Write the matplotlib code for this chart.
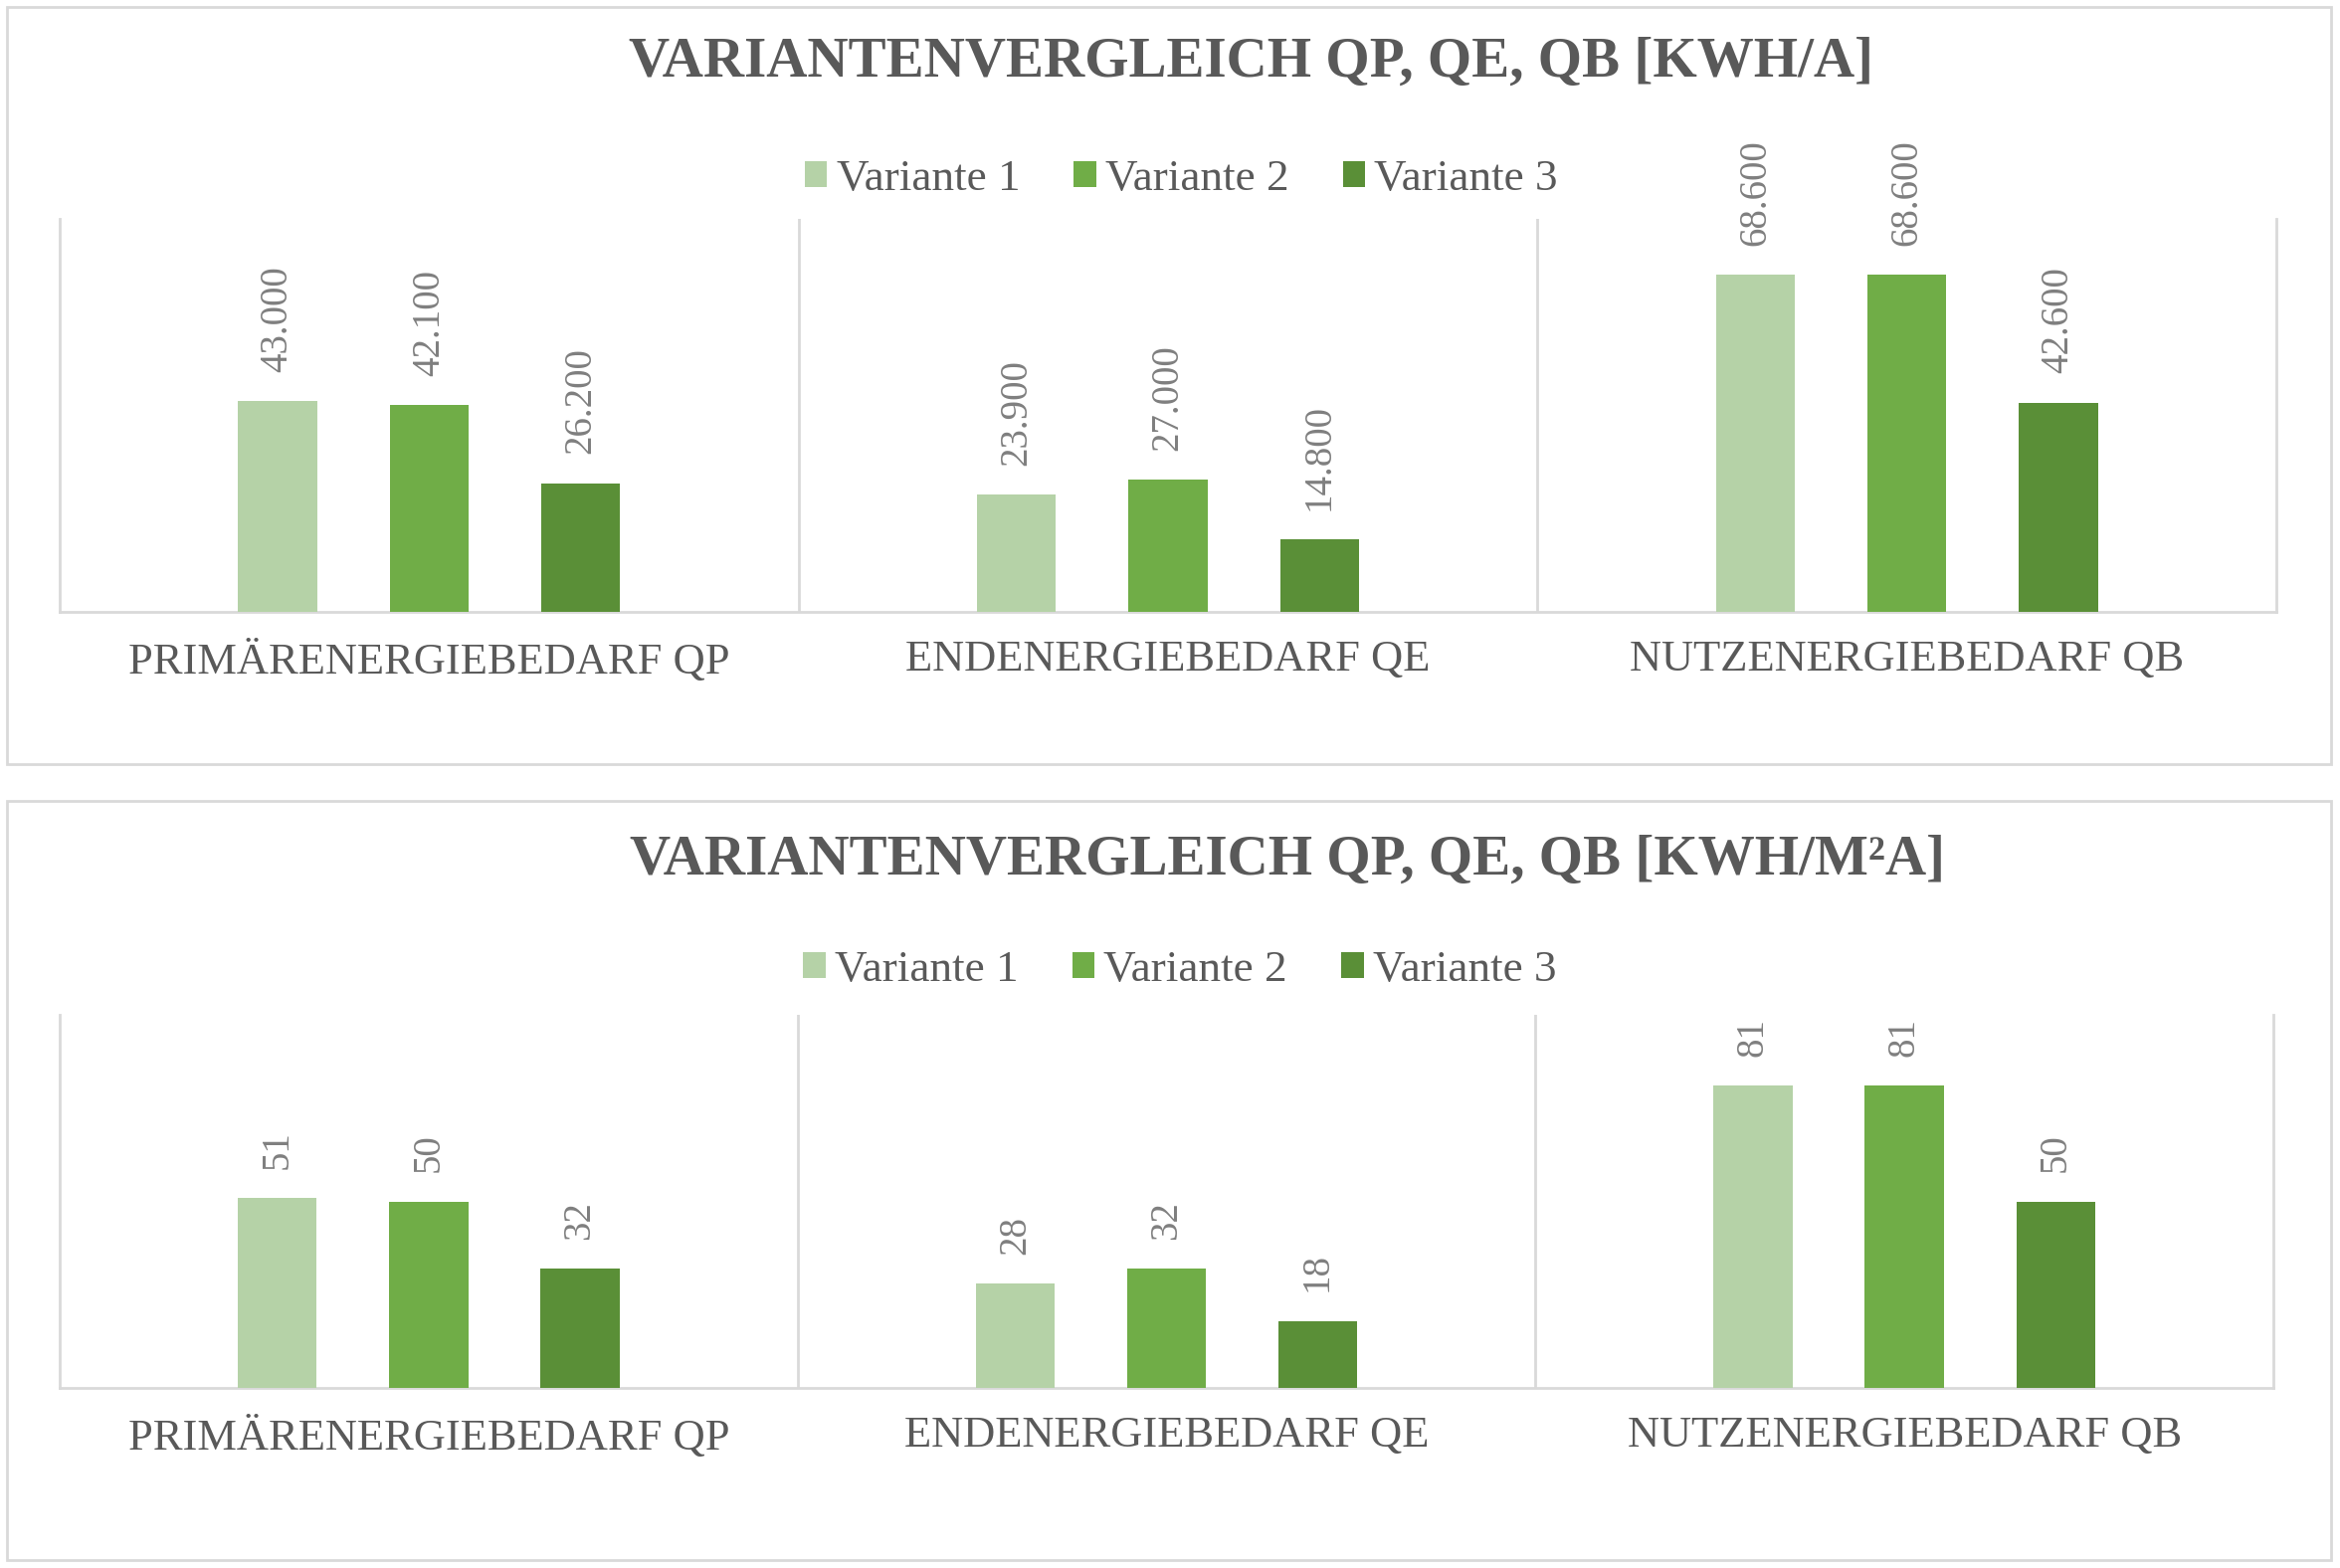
import matplotlib
matplotlib.use("Agg")
import matplotlib.pyplot as plt
from matplotlib.patches import Rectangle

categories = ["PRIMÄRENERGIEBEDARF QP", "ENDENERGIEBEDARF QE", "NUTZENERGIEBEDARF QB"]
series_names = ["Variante 1", "Variante 2", "Variante 3"]
colors = ["#B5D2A7", "#70AD47", "#5A8F37"]

# kWh/a
abs_v1 = [43000, 23900, 68600]
abs_v2 = [42100, 27000, 68600]
abs_v3 = [26200, 14800, 42600]

# kWh/m²a
spec_v1 = [51, 28, 81]
spec_v2 = [50, 32, 81]
spec_v3 = [32, 18, 50]

W, H = 2352, 1576
TXT = "#595959"
LBL = "#7F7F7F"
GRID = "#D9D9D9"

plt.rcParams["font.family"] = ["Liberation Serif", "DejaVu Serif"]

fig = plt.figure(figsize=(W / 100, H / 100), dpi=100)


def px_rect(left, top, right, bottom):
    return [left / W, 1 - bottom / H, (right - left) / W, (bottom - top) / H]


def draw_panel(rect, series, ymax, title, title_xy, legend_y):
    ax = fig.add_axes(rect)
    x = range(len(categories))
    width = 0.107
    offsets = [-0.205, 0.0, 0.205]
    for vals, name, c, off in zip(series, series_names, colors, offsets):
        b = ax.bar([i + off for i in x], vals, width=width, color=c, label=name, zorder=3)
        for rect_, v in zip(b, vals):
            ax.annotate(f"{v:,.0f}".replace(",", "."),
                        (rect_.get_x() + rect_.get_width() / 2, rect_.get_height()),
                        textcoords="offset points", xytext=(0, 21),
                        ha="center", va="bottom", rotation=90,
                        fontsize=28, color=LBL)
    ax.set_xlim(-0.5, 2.5)
    ax.set_ylim(0, ymax)
    ax.set_yticks([])
    ax.set_xticks(list(x))
    ax.set_xticklabels(categories, fontsize=32, color=TXT)
    ax.tick_params(axis="x", length=0, pad=20)
    for s in ["left", "right", "bottom"]:
        ax.spines[s].set_color(GRID)
        ax.spines[s].set_linewidth(2)
    ax.spines["top"].set_visible(False)
    for xv in [0.5, 1.5]:
        ax.axvline(xv, color=GRID, lw=2, zorder=1)
    ax.legend(loc="center", bbox_to_anchor=(0.506, legend_y), ncol=3, frameon=False,
              fontsize=32.5, labelcolor=TXT, handlelength=0.5, handleheight=0.5,
              handletextpad=0.2, columnspacing=1.2, borderaxespad=0)
    fig.text(title_xy[0], title_xy[1], title, ha="center", va="center",
             fontsize=41, fontweight="bold", color=TXT)
    return ax


# panel frames
for top, bottom in [(7, 768), (805, 1568)]:
    fig.patches.append(Rectangle((7 / W, 1 - bottom / H), (2343 - 7) / W, (bottom - top) / H,
                                 transform=fig.transFigure, fill=False,
                                 edgecolor=GRID, lw=2))

draw_panel(px_rect(60, 220, 2288, 615), [abs_v1, abs_v2, abs_v3], 80000,
           "VARIANTENVERGLEICH QP, QE, QB [KWH/A]", (1257 / W, 1 - 63 / H),
           1 + (220 - 180) / 395)
draw_panel(px_rect(60, 1020, 2285, 1395), [spec_v1, spec_v2, spec_v3], 100,
           "VARIANTENVERGLEICH QP, QE, QB [KWH/M²A]", (1294 / W, 1 - 865 / H),
           1 + (1020 - 975) / 375)

fig.savefig("out.png", dpi=100)
plt.close(fig)
